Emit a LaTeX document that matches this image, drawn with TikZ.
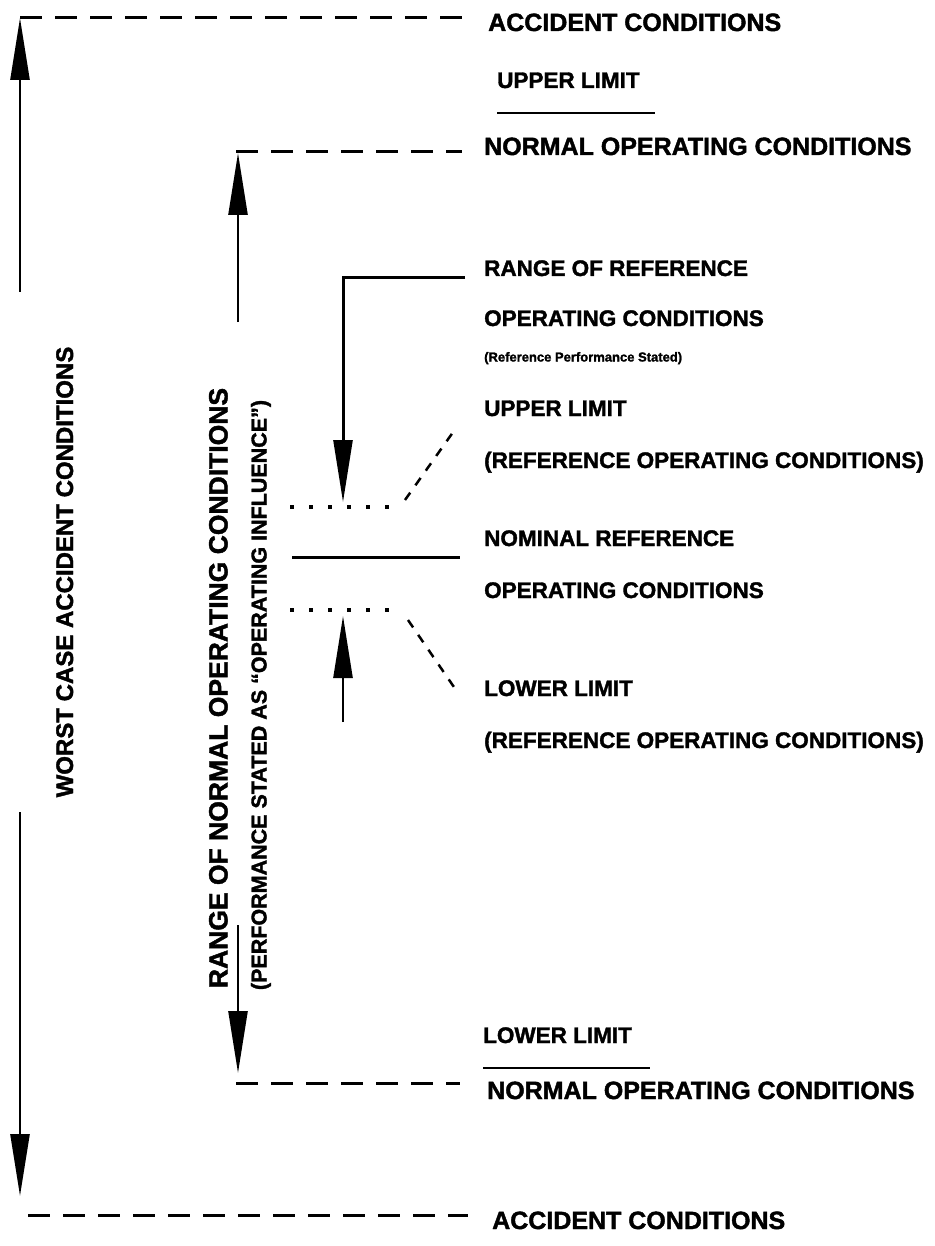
\documentclass[tikz,border=0pt]{standalone}
\usepackage{fontspec}
\setmainfont{Liberation Sans}[FakeBold=1.6]
\usetikzlibrary{arrows.meta}
\begin{document}
\begin{tikzpicture}[x=1pt,y=-1pt,
  big/.style={anchor=west,inner sep=0pt,text height=18pt,text depth=0pt,font=\bfseries\fontsize{25}{30}\selectfont},
  mid/.style={anchor=west,inner sep=0pt,text height=16pt,text depth=0pt,font=\bfseries\fontsize{22.5}{27}\selectfont},
  tiny/.style={anchor=west,inner sep=0pt,text height=9pt,text depth=0pt,font=\bfseries\fontsize{13}{15}\selectfont},
  vlabel/.style={rotate=90,inner sep=0pt,text height=18pt,text depth=0pt,font=\bfseries\fontsize{24}{28}\selectfont},
  vlabelwide/.style={rotate=90,inner sep=0pt,text height=19pt,text depth=0pt,font=\bfseries\fontsize{26.5}{30}\selectfont},
  vsmall/.style={rotate=90,inner sep=0pt,text height=15pt,text depth=0pt,font=\bfseries\fontsize{21.5}{25}\selectfont},
  limitline/.style={line width=3pt,dash pattern=on 22pt off 13pt},
  refdots/.style={line width=3.5pt,dash pattern=on 4pt off 15pt},
  slant/.style={line width=2.5pt,dash pattern=on 9pt off 9pt},
  rangeline/.style={line width=2.5pt},
  head/.style={-{Triangle[length=62pt,width=19pt]}},
]
\useasboundingbox (0,0) rectangle (934,1246);
\fill[white] (0,0) rectangle (934,1246);

% ---- accident conditions bracket ----
\coordinate (acTopL) at (20,18);
\coordinate (acTopR) at (462,18);
\coordinate (acUpEnd) at (20,292);
\coordinate (acLoStart) at (20,812);
\coordinate (acLoTip) at (20,1196);
\coordinate (acBotL) at (28,1215);
\coordinate (acBotR) at (468,1215);
\draw[limitline] (acTopL) -- (acTopR);
\draw[rangeline,head] (acUpEnd) -- (acTopL);
\draw[rangeline,head] (acLoStart) -- (acLoTip);
\draw[limitline] (acBotL) -- (acBotR);
\node[vlabel] (worst) at (64,572) {WORST CASE ACCIDENT CONDITIONS};

% ---- normal operating conditions bracket ----
\coordinate (noTopL) at (236,152);
\coordinate (noTopR) at (462,152);
\coordinate (noUpTip) at (238,153);
\coordinate (noUpEnd) at (238,322);
\coordinate (noLoStart) at (238,925);
\coordinate (noLoTip) at (238,1073);
\coordinate (noBotL) at (236,1083);
\coordinate (noBotR) at (460,1083);
\draw[limitline] (noTopL) -- (noTopR);
\draw[rangeline,head] (noUpEnd) -- (noUpTip);
\draw[rangeline,head] (noLoStart) -- (noLoTip);
\draw[limitline] (noBotL) -- (noBotR);
\node[vlabelwide] (range) at (218,688) {RANGE OF NORMAL OPERATING CONDITIONS};
\node[vsmall] (perf) at (259,695) {(PERFORMANCE STATED AS ``OPERATING INFLUENCE'')};

% ---- reference operating conditions ----
\coordinate (refR) at (465,278);
\coordinate (refCorner) at (343,278);
\coordinate (upTip) at (343,502);
\coordinate (loTip) at (343,616);
\coordinate (loEnd) at (343,722);
\draw[line width=3pt] (refR) -- (refCorner) -- (343,440);
\draw[rangeline,head] (refCorner) -- (upTip);
\draw[rangeline,head] (loEnd) -- (loTip);

\coordinate (upDotL) at (290,507);
\coordinate (upDotR) at (400,507);
\coordinate (nomL) at (292,557);
\coordinate (nomR) at (460,557);
\coordinate (loDotL) at (290,610);
\coordinate (loDotR) at (400,610);
\draw[refdots] (upDotL) -- (upDotR);
\draw[line width=3pt] (nomL) -- (nomR);
\draw[refdots] (loDotL) -- (loDotR);
\coordinate (upSlantA) at (405,500);
\coordinate (upSlantB) at (456,428);
\coordinate (loSlantA) at (408,620);
\coordinate (loSlantB) at (456,690);
\draw[slant] (upSlantA) -- (upSlantB);
\draw[slant] (loSlantA) -- (loSlantB);

% ---- labels on the right ----
\node[big] (acc1) at (488,22) {ACCIDENT CONDITIONS};
\node[mid] (ul1) at (497,80) {UPPER LIMIT};
\draw[line width=2.5pt] (497,113) -- (655,113);
\node[big] (noc1) at (484,146) {NORMAL OPERATING CONDITIONS};

\node[mid] (rr1) at (484,268) {RANGE OF REFERENCE};
\node[mid] (rr2) at (484,318) {OPERATING CONDITIONS};
\node[tiny] (rr3) at (484,357) {(Reference Performance Stated)};
\node[mid] (ul2) at (484,408) {UPPER LIMIT};
\node[mid] (ul3) at (484,460) {(REFERENCE OPERATING CONDITIONS)};
\node[mid] (nom1) at (484,538) {NOMINAL REFERENCE};
\node[mid] (nom2) at (484,590) {OPERATING CONDITIONS};
\node[mid] (ll1) at (484,688) {LOWER LIMIT};
\node[mid] (ll2) at (484,740) {(REFERENCE OPERATING CONDITIONS)};

\node[mid] (ll3) at (483,1035) {LOWER LIMIT};
\draw[line width=2.5pt] (483,1068) -- (650,1068);
\node[big] (noc2) at (487,1090) {NORMAL OPERATING CONDITIONS};
\node[big] (acc2) at (492,1220) {ACCIDENT CONDITIONS};
\end{tikzpicture}
\end{document}
